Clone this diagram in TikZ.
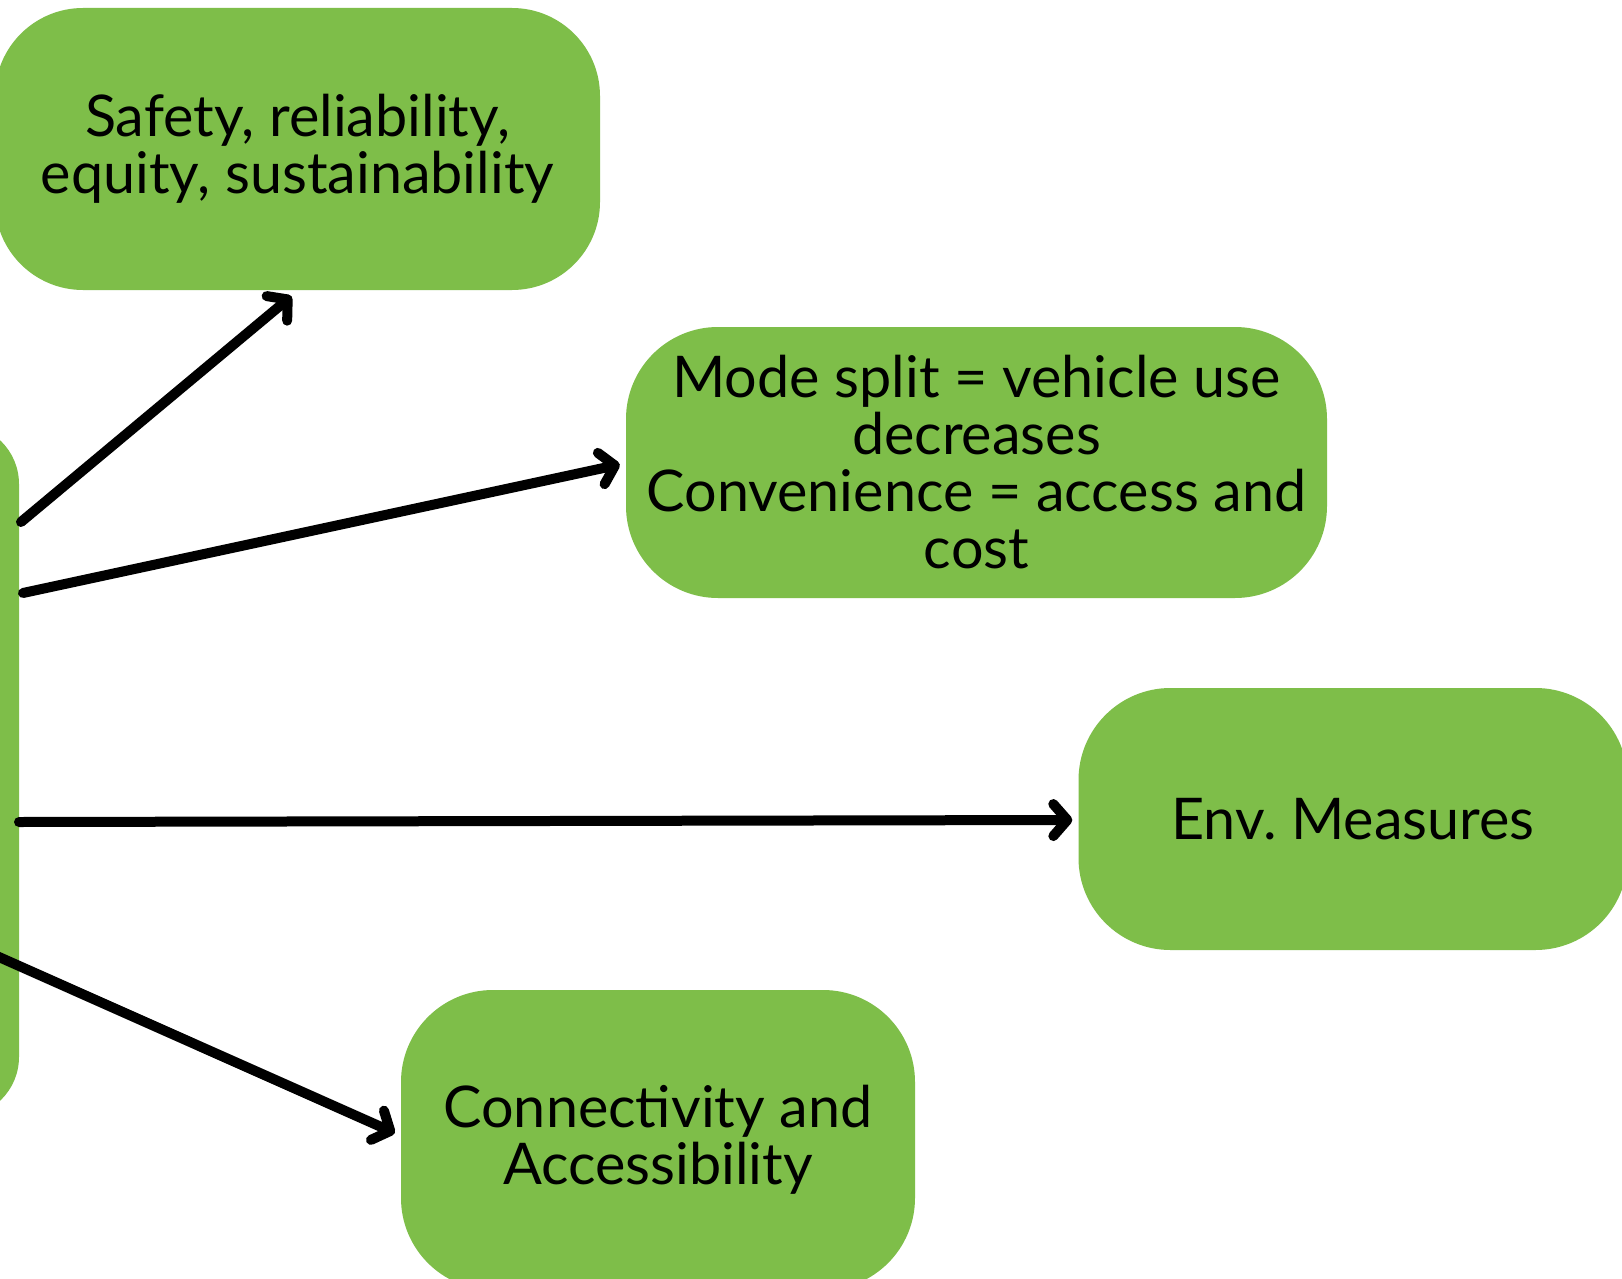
\documentclass[tikz,border=0pt]{standalone}
\usepackage{fontspec}
\setmainfont{Lato}
\usetikzlibrary{arrows.meta}
\definecolor{leaf}{RGB}{126,190,73}
\tikzset{
  card/.style={fill=leaf, draw=none, rounded corners=#1, inner sep=0pt,
               align=center, text=black, font=\fontsize{57.5}{57}\selectfont},
  card/.default=88pt,
  link/.style={line width=10pt, draw=black, line cap=round,
               -{Straight Barb[length=14pt,width=32pt,line width=10pt,round]}},
}
\begin{document}
\begin{tikzpicture}[x=1pt,y=-1pt]
  \useasboundingbox (0,0) rectangle (1622,1279);
  \clip (0,0) rectangle (1622,1279);
  \fill[white] (0,0) rectangle (1622,1279);

  % central block, mostly outside the frame on the left
  \node[card=60pt, minimum width=320pt, minimum height=693pt] (hub) at (-141,770.5) {};

  \node[card, minimum width=605pt, minimum height=282pt] (safety) at (297.5,149)
    {Safety, reliability,\\equity, sustainability};
  \node[card=92pt, minimum width=701pt, minimum height=271pt] (mode) at (976.5,462.5)
    {Mode split = vehicle use\\decreases\\Convenience = access and\\cost};
  \node[card=92pt, minimum width=549pt, minimum height=262pt] (env) at (1353,819)
    {Env.\ Measures};
  \node[card=92pt, minimum width=514pt, minimum height=300pt] (conn) at (658,1140)
    {Connectivity and\\Accessibility};

  % arrow origins along the right edge of the central block
  \coordinate (o1) at (21,522);
  \coordinate (o2) at (23,593);
  \coordinate (o3) at (19,822);
  \coordinate (o4) at (-10,953);

  \draw[link] (o1) -- ([xshift=-6pt,yshift=-6pt]safety.south);
  \draw[link] (o2) -- ([xshift=-6pt,yshift=-2pt]mode.west);
  \draw[link] (o3) -- ([xshift=-6pt,yshift=-1pt]env.west);
  \draw[link] (o4) -- ([xshift=-6pt,yshift=7pt]conn.west);
\end{tikzpicture}
\end{document}
